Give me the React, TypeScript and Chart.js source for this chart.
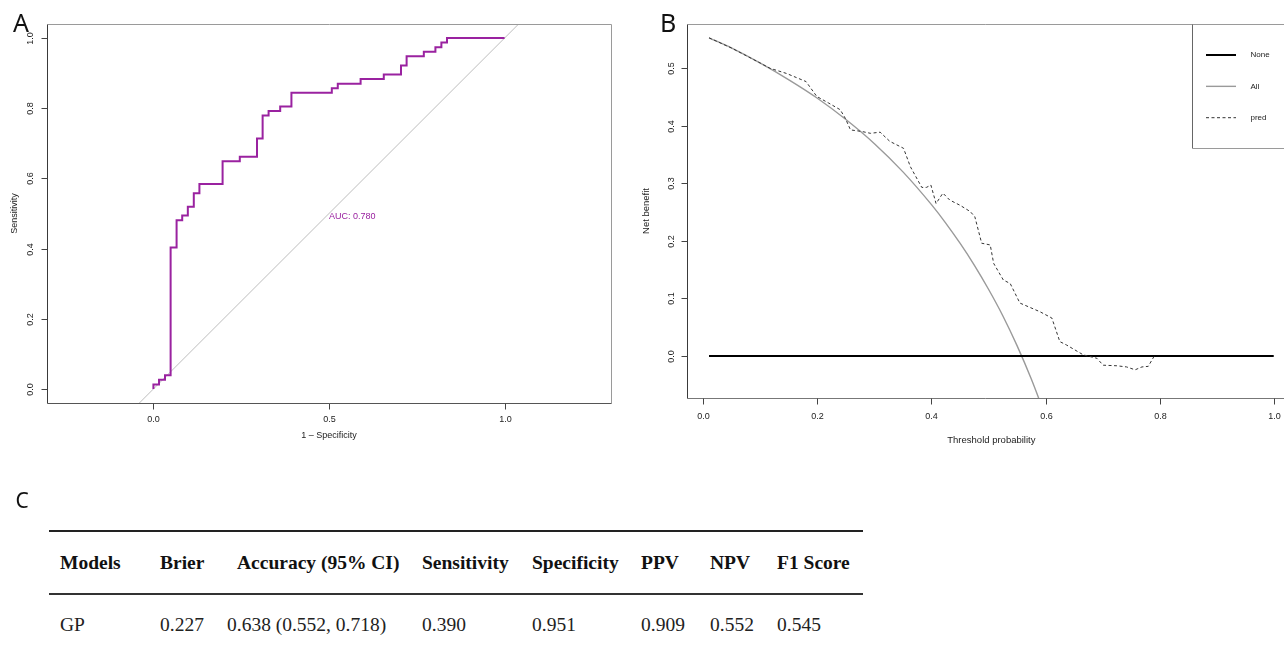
import React, { useEffect, useRef } from 'react';
import { Chart, registerables } from 'chart.js';

Chart.register(...registerables);

const SANS = '"Liberation Sans", Arial, Helvetica, sans-serif';
const SERIF = '"Liberation Serif", "Times New Roman", serif';
const PURPLE = '#9a22a0';

// ---------- Panel A: ROC ----------
const rocFpr = [0, 0, 0.016, 0.016, 0.033, 0.033, 0.049, 0.049, 0.066, 0.066, 0.082, 0.082, 0.098, 0.098, 0.115, 0.115, 0.131, 0.131, 0.197, 0.197, 0.246, 0.246, 0.295, 0.295, 0.311, 0.311, 0.328, 0.328, 0.361, 0.361, 0.393, 0.393, 0.508, 0.508, 0.525, 0.525, 0.590, 0.590, 0.656, 0.656, 0.705, 0.705, 0.721, 0.721, 0.770, 0.770, 0.803, 0.803, 0.820, 0.820, 0.836, 0.836, 1];
const rocTpr = [0, 0.013, 0.013, 0.026, 0.026, 0.039, 0.039, 0.403, 0.403, 0.481, 0.481, 0.494, 0.494, 0.519, 0.519, 0.558, 0.558, 0.584, 0.584, 0.649, 0.649, 0.662, 0.662, 0.714, 0.714, 0.779, 0.779, 0.792, 0.792, 0.805, 0.805, 0.844, 0.844, 0.857, 0.857, 0.870, 0.870, 0.883, 0.883, 0.896, 0.896, 0.922, 0.922, 0.948, 0.948, 0.961, 0.961, 0.974, 0.974, 0.987, 0.987, 1, 1];
const rocRefX = [-0.2, 1.2];
const rocRefY = [-0.2, 1.2];
const rocXTicks = [0, 0.5, 1];
const rocYTicks = [0, 0.2, 0.4, 0.6, 0.8, 1];
const aucText = 'AUC: 0.780';
const aucAt = [0.5, 0.49];

// ---------- Panel B: decision curve ----------
const noneT = [0.01, 1];
const noneNB = [0, 0];
const allT = [0.01, 0.05, 0.1, 0.15, 0.2, 0.25, 0.3, 0.35, 0.4, 0.425, 0.45, 0.475, 0.5, 0.525, 0.55, 0.575, 0.6];
const allNB = [0.553, 0.535, 0.509, 0.480, 0.448, 0.411, 0.369, 0.320, 0.263, 0.231, 0.196, 0.158, 0.116, 0.070, 0.018, -0.040, -0.105];
const predT = [0.01, 0.05, 0.10, 0.117, 0.146, 0.163, 0.180, 0.199, 0.219, 0.240, 0.249, 0.258, 0.279, 0.293, 0.310, 0.327, 0.351, 0.363, 0.383, 0.391, 0.399, 0.408, 0.420, 0.432, 0.450, 0.468, 0.476, 0.488, 0.503, 0.509, 0.526, 0.538, 0.555, 0.590, 0.611, 0.625, 0.637, 0.666, 0.690, 0.701, 0.725, 0.742, 0.757, 0.769, 0.780, 0.790];
const predNB = [0.553, 0.535, 0.509, 0.500, 0.491, 0.484, 0.477, 0.451, 0.440, 0.428, 0.413, 0.393, 0.390, 0.387, 0.389, 0.373, 0.361, 0.329, 0.293, 0.293, 0.297, 0.265, 0.283, 0.271, 0.262, 0.251, 0.242, 0.196, 0.193, 0.161, 0.132, 0.126, 0.092, 0.077, 0.066, 0.025, 0.019, 0.002, -0.004, -0.016, -0.017, -0.019, -0.024, -0.019, -0.018, -0.001];
const dcaXTicks = [0, 0.2, 0.4, 0.6, 0.8, 1];
const dcaYTicks = [0, 0.1, 0.2, 0.3, 0.4, 0.5];

// ---------- Panel C: table ----------
const tableHeaders = ['Models', 'Brier', 'Accuracy (95% CI)', 'Sensitivity', 'Specificity', 'PPV', 'NPV', 'F1 Score'];
const tableRow = ['GP', '0.227', '0.638 (0.552, 0.718)', '0.390', '0.951', '0.909', '0.552', '0.545'];
const headLeft = [60, 160, 237, 422, 532, 641, 710, 777];
const rowLeft = [60, 160, 227, 422, 532, 641, 710, 777];

const zip = (xs: number[], ys: number[]) => xs.map((x, i) => ({ x, y: ys[i] }));

type AxesOpts = {
  xTicks: number[];
  yTicks: number[];
  xLabelDy: number;
  yLabelDx: number;
  xTitle: string;
  yTitle: string;
  xTitleDy: number;
  yTitleDx: number;
  xTitleCenter: number;
  tickFont: number;
  titleFont: number;
  drawRight: boolean;
  bottomColor: string;
};

function axesPlugin(o: AxesOpts) {
  return {
    id: 'rAxes',
    afterDraw(chart: any) {
      const ctx = chart.ctx as CanvasRenderingContext2D;
      const a = chart.chartArea;
      const xs = chart.scales.x;
      const ys = chart.scales.y;
      const L = Math.round(a.left) + 0.5;
      const T = Math.round(a.top) + 0.5;
      const B = Math.round(a.bottom) + 0.5;
      const R = Math.round(a.right) + 0.5;
      ctx.save();
      ctx.lineWidth = 1;
      ctx.strokeStyle = '#9a9a9a';
      ctx.beginPath();
      ctx.moveTo(L, T);
      ctx.lineTo(o.drawRight ? R : chart.width, T);
      if (o.drawRight) ctx.lineTo(R, B);
      ctx.stroke();
      ctx.strokeStyle = o.bottomColor;
      ctx.beginPath();
      ctx.moveTo(L, B);
      ctx.lineTo(o.drawRight ? R : chart.width, B);
      ctx.stroke();
      ctx.strokeStyle = '#3a3a3a';
      ctx.beginPath();
      ctx.moveTo(L, T);
      ctx.lineTo(L, B);
      ctx.stroke();
      ctx.strokeStyle = '#444';
      ctx.fillStyle = '#222';
      ctx.font = `${o.tickFont}px ${SANS}`;
      ctx.textAlign = 'center';
      ctx.textBaseline = 'middle';
      o.xTicks.forEach((v) => {
        const px = Math.round(xs.getPixelForValue(v)) + 0.5;
        ctx.beginPath();
        ctx.moveTo(px, B);
        ctx.lineTo(px, B + 6);
        ctx.stroke();
        ctx.fillText(v.toFixed(1), px, a.bottom + o.xLabelDy);
      });
      o.yTicks.forEach((v) => {
        const py = Math.round(ys.getPixelForValue(v)) + 0.5;
        ctx.beginPath();
        ctx.moveTo(L, py);
        ctx.lineTo(L - 6, py);
        ctx.stroke();
        ctx.save();
        ctx.translate(a.left - o.yLabelDx, py);
        ctx.rotate(-Math.PI / 2);
        ctx.fillText(v.toFixed(1), 0, 0);
        ctx.restore();
      });
      ctx.font = `${o.titleFont}px ${SANS}`;
      ctx.fillText(o.xTitle, xs.getPixelForValue(o.xTitleCenter), a.bottom + o.xTitleDy);
      ctx.save();
      ctx.translate(a.left - o.yTitleDx, (a.top + a.bottom) / 2);
      ctx.rotate(-Math.PI / 2);
      ctx.fillText(o.yTitle, 0, 0);
      ctx.restore();
      ctx.restore();
    },
  };
}

const aucPlugin = {
  id: 'aucText',
  afterDraw(chart: any) {
    const ctx = chart.ctx as CanvasRenderingContext2D;
    ctx.save();
    ctx.fillStyle = PURPLE;
    ctx.font = `9px ${SANS}`;
    ctx.textAlign = 'left';
    ctx.textBaseline = 'middle';
    ctx.fillText(aucText, chart.scales.x.getPixelForValue(aucAt[0]), chart.scales.y.getPixelForValue(aucAt[1]));
    ctx.restore();
  },
};

const dcaLegendPlugin = {
  id: 'dcaLegend',
  afterDraw(chart: any) {
    const ctx = chart.ctx as CanvasRenderingContext2D;
    const a = chart.chartArea;
    const boxLeft = 552.5;
    const boxTop = Math.round(a.top) + 0.5;
    const boxBottom = 148.5;
    ctx.save();
    ctx.lineWidth = 1;
    ctx.strokeStyle = '#666';
    ctx.beginPath();
    ctx.moveTo(boxLeft, boxTop);
    ctx.lineTo(boxLeft, boxBottom);
    ctx.stroke();
    ctx.strokeStyle = '#9a9a9a';
    ctx.beginPath();
    ctx.moveTo(boxLeft, boxBottom);
    ctx.lineTo(chart.width, boxBottom);
    ctx.stroke();
    chart.data.datasets.forEach((ds: any, i: number) => {
      const y = 55 + i * 31.35;
      ctx.strokeStyle = ds.borderColor;
      ctx.lineWidth = ds.borderWidth;
      ctx.setLineDash(ds.borderDash || []);
      ctx.beginPath();
      ctx.moveTo(566, y);
      ctx.lineTo(596, y);
      ctx.stroke();
      ctx.setLineDash([]);
      ctx.fillStyle = '#222';
      ctx.font = `8px ${SANS}`;
      ctx.textAlign = 'left';
      ctx.textBaseline = 'middle';
      ctx.fillText(ds.label, 610.5, y);
    });
    ctx.restore();
  },
};

const hiddenScale = (min: number, max: number, fit: (s: any) => void) => ({
  type: 'linear',
  min,
  max,
  grid: { display: false },
  border: { display: false },
  ticks: { display: false },
  afterFit: fit,
});

function rocConfig(): any {
  return {
    type: 'scatter',
    data: {
      datasets: [
        { label: 'ROC', data: zip(rocFpr, rocTpr), showLine: true, borderColor: PURPLE, borderWidth: 2, pointRadius: 0, tension: 0, clip: 0 },
        { label: 'ref', data: zip(rocRefX, rocRefY), showLine: true, borderColor: '#bdbdbd', borderWidth: 1, pointRadius: 0, clip: 0 },
      ],
    },
    options: {
      responsive: false,
      maintainAspectRatio: false,
      animation: false,
      events: [],
      layout: { padding: { left: 0, top: 24, right: 29, bottom: 0 } },
      plugins: { legend: { display: false }, tooltip: { enabled: false } },
      scales: {
        x: hiddenScale(-0.303, 1.303, (s) => { s.height = 57; }),
        y: hiddenScale(-0.04, 1.04, (s) => { s.width = 47; }),
      },
    },
    plugins: [
      axesPlugin({
        xTicks: rocXTicks, yTicks: rocYTicks, xLabelDy: 16.5, yLabelDx: 16, xTitle: '1 \u2013 Specificity', yTitle: 'Sensitivity',
        xTitleDy: 33, yTitleDx: 32.5, xTitleCenter: 0.5, tickFont: 9, titleFont: 9, drawRight: true, bottomColor: '#555',
      }),
      aucPlugin,
    ],
  };
}

function dcaConfig(): any {
  return {
    type: 'scatter',
    data: {
      datasets: [
        { label: 'None', data: zip(noneT, noneNB), showLine: true, borderColor: '#000', borderWidth: 2, pointRadius: 0, clip: 0, order: 1 },
        { label: 'All', data: zip(allT, allNB), showLine: true, borderColor: '#9a9a9a', borderWidth: 1.4, pointRadius: 0, cubicInterpolationMode: 'monotone', clip: 0, order: 2 },
        { label: 'pred', data: zip(predT, predNB), showLine: true, borderColor: '#333', borderWidth: 1, borderDash: [3, 2.5], pointRadius: 0, tension: 0, clip: 0, order: 0 },
      ],
    },
    options: {
      responsive: false,
      maintainAspectRatio: false,
      animation: false,
      events: [],
      layout: { padding: { left: 0, top: 24, right: 0, bottom: 0 } },
      plugins: { legend: { display: false }, tooltip: { enabled: false } },
      scales: {
        x: hiddenScale(-0.0286, 1.018, (s) => { s.height = 62; }),
        y: hiddenScale(-0.073, 0.577, (s) => { s.width = 47; }),
      },
    },
    plugins: [
      axesPlugin({
        xTicks: dcaXTicks, yTicks: dcaYTicks, xLabelDy: 18.5, yLabelDx: 15.5, xTitle: 'Threshold probability', yTitle: 'Net benefit',
        xTitleDy: 42, yTitleDx: 40.5, xTitleCenter: 0.505, tickFont: 9, titleFont: 9.5, drawRight: false, bottomColor: '#777',
      }),
      dcaLegendPlugin,
    ],
  };
}

function ChartCanvas(props: { left: number; top: number; width: number; height: number; build: () => any }) {
  const ref = useRef<HTMLCanvasElement>(null);
  useEffect(() => {
    const chart = new Chart(ref.current as HTMLCanvasElement, props.build());
    return () => chart.destroy();
  }, []);
  return (
    <canvas
      ref={ref}
      width={props.width}
      height={props.height}
      style={{ position: 'absolute', left: props.left, top: props.top, width: props.width, height: props.height }}
    />
  );
}

const letterStyle = (left: number, top: number, size: number): React.CSSProperties => ({
  position: 'absolute',
  left,
  top,
  fontFamily: '"Noto Sans", "DejaVu Sans", sans-serif',
  fontSize: size,
  lineHeight: `${size}px`,
  color: '#111',
  fontWeight: 400,
});

const cellStyle = (left: number, top: number, bold: boolean): React.CSSProperties => ({
  position: 'absolute',
  left,
  top,
  fontFamily: SERIF,
  fontSize: 19.5,
  lineHeight: '20px',
  fontWeight: bold ? 700 : 400,
  color: bold ? '#111' : '#222',
  whiteSpace: 'nowrap',
});

export default function App() {
  return (
    <div style={{ position: 'fixed', left: 0, top: 0, width: 1284, height: 650, overflow: 'hidden', background: '#fff' }}>
      <ChartCanvas left={0} top={0} width={640} height={460} build={rocConfig} />
      <ChartCanvas left={640} top={0} width={644} height={460} build={dcaConfig} />
      <div style={letterStyle(13, 9.5, 25)}>A</div>
      <div style={letterStyle(660, 9.5, 25)}>B</div>
      <div style={letterStyle(15.5, 489.5, 21)}>C</div>
      <div style={{ position: 'absolute', left: 49, top: 529.5, width: 814, height: 2, background: '#222' }} />
      <div style={{ position: 'absolute', left: 49, top: 592.5, width: 814, height: 2, background: '#333' }} />
      {tableHeaders.map((h, i) => (
        <div key={'h' + i} style={cellStyle(headLeft[i], 552.7, true)}>{h}</div>
      ))}
      {tableRow.map((v, i) => (
        <div key={'r' + i} style={cellStyle(rowLeft[i], 615.1, false)}>{v}</div>
      ))}
    </div>
  );
}
